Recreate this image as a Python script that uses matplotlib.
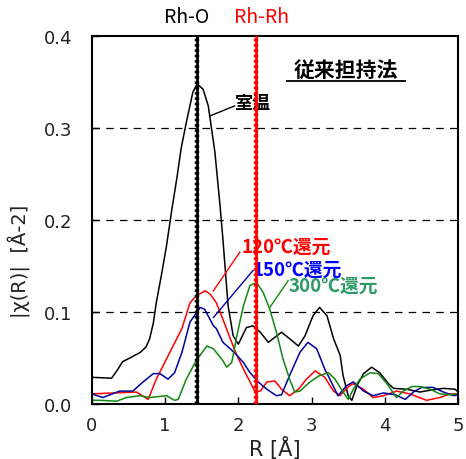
import numpy as np
import matplotlib
matplotlib.use('Agg')
from matplotlib import pyplot as plt

plt.rcParams['font.family'] = ['DejaVu Sans']
JP = ['Noto Sans CJK JP', 'DejaVu Sans']

# curves: R [A] and |chi(R)|
r_room = [0.00, 0.27, 0.35, 0.42, 0.52, 0.66, 0.74, 0.79, 0.84, 0.88, 0.95, 1.02, 1.09, 1.16,
          1.22, 1.29, 1.38, 1.44, 1.52, 1.59, 1.68, 1.75, 1.79, 1.86, 1.93, 2.00, 2.11, 2.20,
          2.30, 2.41, 2.59, 2.70, 2.82, 2.91, 3.02, 3.11, 3.21, 3.30, 3.39, 3.43, 3.50, 3.55,
          3.62, 3.71, 3.82, 3.93, 4.05, 4.12, 4.30, 4.48, 4.62, 4.80, 4.96, 5.00]
chi_room = [0.029, 0.028, 0.037, 0.046, 0.050, 0.056, 0.062, 0.071, 0.088, 0.110, 0.140, 0.172,
            0.210, 0.245, 0.278, 0.306, 0.339, 0.348, 0.342, 0.324, 0.274, 0.216, 0.179, 0.107,
            0.074, 0.065, 0.083, 0.085, 0.078, 0.067, 0.078, 0.071, 0.063, 0.074, 0.096, 0.105,
            0.096, 0.071, 0.053, 0.031, 0.009, 0.004, 0.020, 0.033, 0.040, 0.034, 0.022, 0.017,
            0.016, 0.013, 0.015, 0.017, 0.016, 0.013]

r_120 = [0.00, 0.30, 0.61, 0.77, 0.88, 1.02, 1.16, 1.23, 1.34, 1.43, 1.55, 1.62, 1.70, 1.79,
         1.89, 1.98, 2.07, 2.16, 2.23, 2.30, 2.39, 2.50, 2.59, 2.70, 2.82, 2.93, 3.05, 3.18,
         3.30, 3.39, 3.43, 3.52, 3.57, 3.71, 3.84, 3.98, 4.16, 4.34, 4.57, 4.75, 4.89, 5.00]
chi_120 = [0.011, 0.012, 0.013, 0.005, 0.027, 0.049, 0.071, 0.082, 0.110, 0.118, 0.123, 0.119,
           0.110, 0.092, 0.071, 0.053, 0.038, 0.024, 0.013, 0.014, 0.024, 0.025, 0.016, 0.009,
           0.016, 0.027, 0.036, 0.029, 0.014, 0.009, 0.013, 0.020, 0.022, 0.016, 0.007, 0.009,
           0.014, 0.011, 0.004, 0.007, 0.011, 0.011]

r_150 = [0.00, 0.15, 0.38, 0.56, 0.70, 0.84, 0.93, 1.04, 1.13, 1.23, 1.34, 1.48, 1.54, 1.66,
         1.70, 1.79, 1.89, 1.98, 2.07, 2.16, 2.27, 2.39, 2.52, 2.59, 2.70, 2.84, 2.95, 3.07,
         3.18, 3.25, 3.36, 3.48, 3.57, 3.71, 3.84, 3.98, 4.14, 4.28, 4.39, 4.50, 4.66, 4.80,
         4.94, 5.00]
chi_150 = [0.011, 0.007, 0.014, 0.014, 0.024, 0.033, 0.033, 0.027, 0.034, 0.056, 0.089, 0.105,
           0.103, 0.085, 0.082, 0.067, 0.060, 0.053, 0.045, 0.034, 0.024, 0.016, 0.009, 0.010,
           0.031, 0.056, 0.067, 0.060, 0.038, 0.027, 0.009, 0.020, 0.024, 0.014, 0.009, 0.012,
           0.010, 0.005, 0.013, 0.018, 0.018, 0.013, 0.009, 0.010]

r_300 = [0.00, 0.11, 0.34, 0.47, 0.66, 0.79, 1.02, 1.13, 1.18, 1.29, 1.41, 1.48, 1.57, 1.66,
         1.70, 1.79, 1.84, 1.91, 1.98, 2.07, 2.16, 2.25, 2.34, 2.43, 2.52, 2.61, 2.70, 2.77,
         2.84, 2.98, 3.11, 3.23, 3.32, 3.43, 3.50, 3.57, 3.66, 3.80, 3.91, 4.03, 4.16, 4.25,
         4.37, 4.48, 4.62, 4.75, 4.89, 5.00]
chi_300 = [0.004, 0.004, 0.003, 0.007, 0.009, 0.007, 0.009, 0.004, 0.005, 0.027, 0.045, 0.053,
           0.063, 0.060, 0.056, 0.047, 0.040, 0.045, 0.074, 0.107, 0.129, 0.132, 0.121, 0.103,
           0.078, 0.049, 0.027, 0.013, 0.014, 0.024, 0.031, 0.034, 0.027, 0.013, 0.005, 0.016,
           0.027, 0.034, 0.033, 0.022, 0.007, 0.014, 0.019, 0.019, 0.016, 0.011, 0.010, 0.011]

bond_r = [1.44, 2.24]
bond_labels = ['Rh-O', 'Rh-Rh']
bond_label_x = [1.30, 2.32]
bond_colors = ['black', 'red']

fig = plt.figure(figsize=(4.66, 4.60), dpi=100)
ax = fig.add_axes([0.197, 0.1196, 0.786, 0.80])

# curves
ax.plot(r_room, chi_room, color='black', lw=1.1)
ax.plot(r_120, chi_120, color='red', lw=1.1)
ax.plot(r_150, chi_150, color='#0000a0', lw=1.1)
ax.plot(r_300, chi_300, color='#118811', lw=1.1)

# bond distance markers
for r, lab, lx, c in zip(bond_r, bond_labels, bond_label_x, bond_colors):
    ax.axvline(r, color=c, lw=2.0, zorder=5)
    ax.axvline(r, color=c, lw=3.2, ls=(0, (0.6, 0.6)), zorder=5)
    ax.text(lx, 0.4095, lab, color=c, ha='center', va='bottom', fontsize=14,
            family=JP, clip_on=False)

# dashed grid
for yv in [0.1, 0.2, 0.3]:
    ax.axhline(yv, color='black', lw=0.9, ls=(0, (6, 5)), zorder=0)

# annotations
ax.plot([1.61, 1.95], [0.313, 0.324], color='black', lw=1.0)
ax.text(1.96, 0.328, '室温', fontsize=13, fontweight='bold', family=JP,
        ha='left', va='center')
ax.plot([1.66, 2.02], [0.123, 0.165], color='red', lw=1.0)
ax.text(2.04, 0.172, '120℃還元', fontsize=13.5, fontweight='bold', family=JP,
        color='red', ha='left', va='center')
ax.plot([1.66, 2.20], [0.094, 0.145], color='#0000a0', lw=1.0)
ax.text(2.20, 0.147, '150℃還元', fontsize=13.5, fontweight='bold', family=JP,
        color='#0000ff', ha='left', va='center')
ax.plot([2.43, 2.68], [0.105, 0.134], color='#118811', lw=1.0)
ax.text(2.68, 0.129, '300℃還元', fontsize=13.5, fontweight='bold', family=JP,
        color='#2e9a66', ha='left', va='center')

ax.text(3.47, 0.364, '従来担持法', fontsize=15, fontweight='bold', family=JP,
        ha='center', va='center')
ax.plot([2.66, 4.28], [0.351, 0.351], color='black', lw=1.3)

ax.set_xlim(0, 5)
ax.set_ylim(0, 0.4)
ax.set_xticks([0, 1, 2, 3, 4, 5])
ax.set_yticks([0.0, 0.1, 0.2, 0.3, 0.4])
ax.set_yticklabels(['0.0', '0.1', '0.2', '0.3', '0.4'])
ax.tick_params(direction='in', length=5, width=1, labelsize=13, labelcolor='#222222')
ax.tick_params(axis='x', pad=9)
ax.tick_params(axis='y', pad=14)
for s in ax.spines.values():
    s.set_linewidth(1.5)

ax.set_xlabel('R [Å]', fontsize=15, labelpad=1, color='#222222')
ax.set_ylabel('|χ(R)|  [Å-2]', fontsize=14, color='#222222')
ax.yaxis.set_label_coords(-0.165, 0.39)

fig.savefig('out.png', dpi=100)
